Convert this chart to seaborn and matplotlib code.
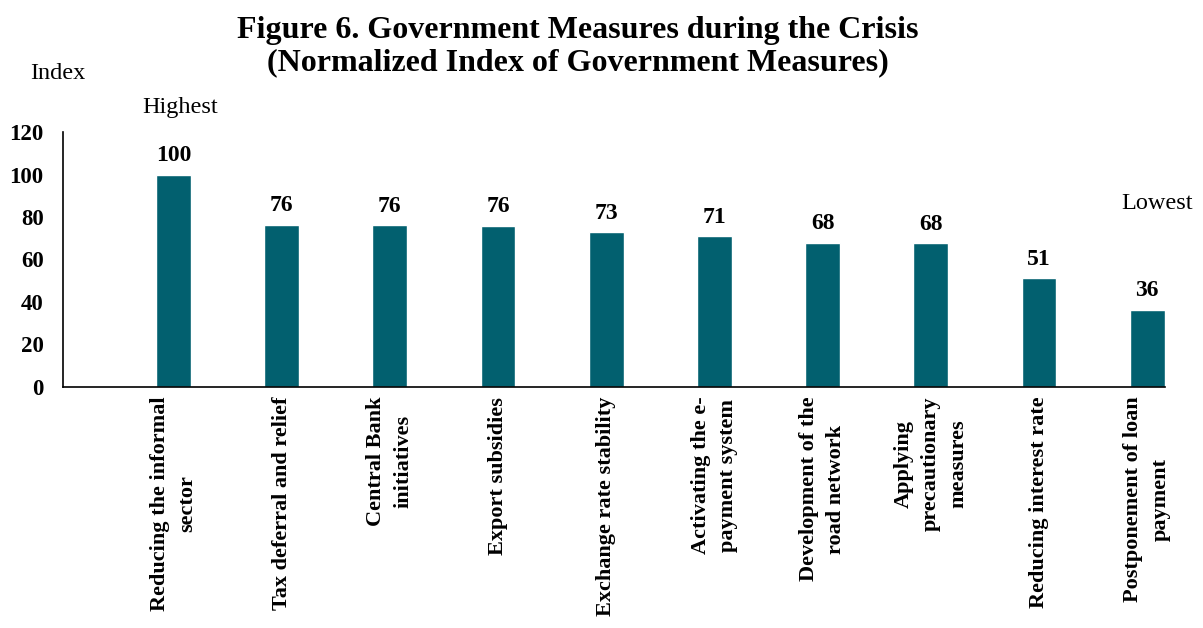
import matplotlib
matplotlib.use("Agg")
import matplotlib.pyplot as plt
import seaborn as sns

categories = ["Reducing the informal\nsector", "Tax deferral and relief", "Central Bank\ninitiatives",
              "Export subsidies", "Exchange rate stability", "Activating the e-\npayment system",
              "Development of the\nroad network", "Applying\nprecautionary\nmeasures",
              "Reducing interest rate", "Postponement of loan\npayment"]
values = [100, 76.3, 76.2, 75.8, 72.9, 71.0, 67.8, 67.7, 51.2, 36.4]
yticks = [0, 20, 40, 60, 80, 100, 120]

sns.set_style("white")
plt.rcParams['font.family'] = ['Liberation Serif', 'DejaVu Serif']
plt.rcParams['text.color'] = 'black'
plt.rcParams['xtick.color'] = 'black'
plt.rcParams['ytick.color'] = 'black'

fig = plt.figure(figsize=(12.03, 6.28), dpi=100)
ax = fig.add_axes([0.0524, 0.3838, 0.9156, 0.406])
color = "#02606F"
sns.barplot(x=list(range(len(values))), y=values, color=color, saturation=1, width=0.32, ax=ax)

for i, v in enumerate(values):
    ax.text(i, v + 4, f"{round(v)}", ha='center', va='bottom', fontsize=17, fontweight='bold')

ax.set_xlim(-1.02, 9.16)
ax.set_ylim(0, 120)
ax.set_yticks(yticks)
ax.set_yticklabels([str(t) for t in yticks], fontsize=16.5, fontweight='bold')
ax.set_xticks(range(len(categories)))
ax.set_xticklabels(categories, rotation=90, ha='center', va='top', fontsize=16,
                   fontweight='bold', multialignment='center', linespacing=1.5)
ax.tick_params(axis='x', length=0, pad=7)
ax.tick_params(axis='y', length=0, pad=14)
for s in ['top', 'right']:
    ax.spines[s].set_visible(False)
for s in ['left', 'bottom']:
    ax.spines[s].set_color('black')
    ax.spines[s].set_linewidth(1.2)
ax.set_xlabel("")
ax.set_ylabel("")

fig.text(0.48, 0.974, "Figure 6. Government Measures during the Crisis\n(Normalized Index of Government Measures)",
         ha='center', va='top', fontsize=23, fontweight='bold', linespacing=1.15)
fig.text(0.025, 0.883, "Index", ha='left', va='center', fontsize=17.5)
fig.text(0.118, 0.829, "Highest", ha='left', va='center', fontsize=17.5)
fig.text(0.932, 0.676, "Lowest", ha='left', va='center', fontsize=17.5)

fig.savefig("out.png", dpi=100)
